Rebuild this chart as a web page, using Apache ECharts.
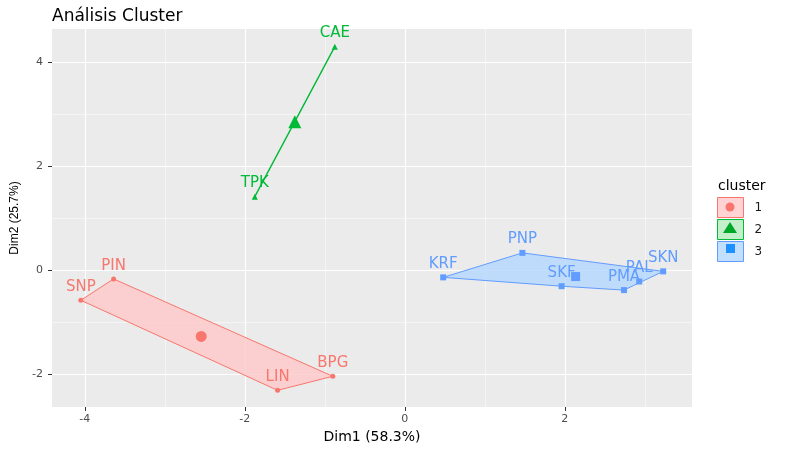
<!DOCTYPE html>
<html>
<head>
<meta charset="utf-8">
<script src="https://cdn.jsdelivr.net/npm/echarts@6/dist/echarts.min.js"></script>
<style>
  html, body { margin: 0; padding: 0; background: #fff; }
  #chart { width: 790px; height: 452px; }
</style>
</head>
<body>
<div id="chart"></div>
<script>
// cluster members (Dim1, Dim2)
const cluster1Labels = ["SNP", "PIN", "LIN", "BPG"];
const cluster1X = [-4.05, -3.64, -1.59, -0.90];
const cluster1Y = [-0.58, -0.17, -2.31, -2.04];

const cluster2Labels = ["CAE", "TPK"];
const cluster2X = [-0.875, -1.875];
const cluster2Y = [4.29, 1.41];

const cluster3Labels = ["KRF", "PNP", "SKF", "PMA", "PAL", "SKN"];
const cluster3X = [0.48, 1.47, 1.96, 2.74, 2.93, 3.23];
const cluster3Y = [-0.14, 0.33, -0.31, -0.385, -0.22, -0.025];

const clusterNames = ["1", "2", "3"];
const xMajorTicks = [-4, -2, 0, 2];
const xMinorTicks = [-3, -1, 1, 3];
const yMajorTicks = [-2, 0, 2, 4];
const yMinorTicks = [-1, 1, 3];

const colors = ["#F8766D", "#00BA38", "#619CFF"];
const fills = ["rgba(255,200,200,0.8)", "rgba(180,235,190,0.8)", "rgba(180,215,255,0.8)"];
const symbols = ["circle", "triangle", "rect"];
const font = "'DejaVu Sans', sans-serif";
const fontNarrow = "'Liberation Sans', Arial, sans-serif";

function toPoints(xs, ys) {
  return xs.map((x, i) => [x, ys[i]]);
}

// convex hull (monotone chain)
function hull(pts) {
  const p = pts.slice().sort((a, b) => a[0] - b[0] || a[1] - b[1]);
  if (p.length < 3) return p;
  const cross = (o, a, b) => (a[0] - o[0]) * (b[1] - o[1]) - (a[1] - o[1]) * (b[0] - o[0]);
  const lower = [], upper = [];
  for (const q of p) {
    while (lower.length >= 2 && cross(lower[lower.length - 2], lower[lower.length - 1], q) <= 0) lower.pop();
    lower.push(q);
  }
  for (let i = p.length - 1; i >= 0; i--) {
    const q = p[i];
    while (upper.length >= 2 && cross(upper[upper.length - 2], upper[upper.length - 1], q) <= 0) upper.pop();
    upper.push(q);
  }
  upper.pop(); lower.pop();
  return lower.concat(upper);
}

function mean(a) {
  return a.reduce((s, v) => s + v, 0) / a.length;
}

const clusters = [
  { labels: cluster1Labels, pts: toPoints(cluster1X, cluster1Y), center: [mean(cluster1X), mean(cluster1Y)] },
  { labels: cluster2Labels, pts: toPoints(cluster2X, cluster2Y), center: [mean(cluster2X), mean(cluster2Y)] },
  { labels: cluster3Labels, pts: toPoints(cluster3X, cluster3Y), center: [mean(cluster3X), mean(cluster3Y)] },
];

const series = [];
clusters.forEach((c, k) => {
  const h = hull(c.pts);
  series.push({
    name: clusterNames[k],
    type: "custom",
    data: h,
    z: 2,
    silent: true,
    renderItem(params, api) {
      if (params.dataIndex !== 0) return;
      return {
        type: "polygon",
        shape: { points: h.map((p) => api.coord(p)) },
        style: { fill: fills[k], stroke: colors[k], lineWidth: k === 1 ? 1.4 : 1 },
      };
    },
  });
  series.push({
    name: clusterNames[k],
    type: "scatter",
    data: c.pts.map((p, i) => ({ value: p, name: c.labels[i] })),
    symbol: symbols[k],
    symbolSize: k === 0 ? 5 : 6,
    itemStyle: { color: colors[k], opacity: 1 },
    z: 3,
    label: {
      show: true,
      position: "top",
      distance: 3,
      formatter: "{b}",
      color: colors[k],
      fontSize: 15,
      fontFamily: font,
    },
  });
  series.push({
    name: clusterNames[k],
    type: "scatter",
    data: [c.center],
    symbol: symbols[k],
    symbolSize: k === 0 ? 11 : k === 1 ? 13 : 9,
    itemStyle: { color: colors[k], opacity: 1 },
    z: 5,
  });
});

const tickStyle = { show: true, length: 4, lineStyle: { color: "#333" } };
const labelStyle = { color: "#4D4D4D", fontSize: 11, fontFamily: font };

const chart = echarts.init(document.getElementById("chart"));
chart.setOption({
  animation: false,
  backgroundColor: "#fff",
  title: [
    {
      text: "Análisis Cluster",
      left: 47,
      top: 3,
      textStyle: { fontSize: 17, fontWeight: "normal", color: "#000", fontFamily: font },
    },
    {
      text: "cluster",
      left: 713,
      top: 174,
      textStyle: { fontSize: 14, fontWeight: "normal", color: "#000", fontFamily: font },
    },
  ],
  grid: { left: 52, top: 29, right: 98, bottom: 45, show: true, backgroundColor: "#EBEBEB", borderWidth: 0 },
  xAxis: [
    {
      type: "value",
      position: "bottom",
      min: -4.41, max: 3.59,
      axisLine: { show: false, onZero: false },
      axisTick: { show: false, customValues: xMinorTicks },
      axisLabel: { show: false, customValues: xMinorTicks },
      splitLine: { show: true, lineStyle: { color: "#fff", width: 0.5 } },
    },
    {
      type: "value",
      position: "bottom",
      min: -4.41, max: 3.59,
      axisLine: { show: false, onZero: false },
      axisTick: Object.assign({ customValues: xMajorTicks }, tickStyle),
      axisLabel: Object.assign({ customValues: xMajorTicks, margin: 7 }, labelStyle),
      splitLine: { show: true, lineStyle: { color: "#fff", width: 1.1 } },
      name: "Dim1 (58.3%)",
      nameLocation: "middle",
      nameGap: 20,
      nameTextStyle: { fontSize: 14, color: "#000", fontFamily: font },
    },
  ],
  yAxis: [
    {
      type: "value",
      position: "left",
      min: -2.63, max: 4.63,
      axisLine: { show: false, onZero: false },
      axisTick: { show: false, customValues: yMinorTicks },
      axisLabel: { show: false, customValues: yMinorTicks },
      splitLine: { show: true, lineStyle: { color: "#fff", width: 0.5 } },
    },
    {
      type: "value",
      position: "left",
      min: -2.63, max: 4.63,
      axisLine: { show: false, onZero: false },
      axisTick: Object.assign({ customValues: yMajorTicks }, tickStyle),
      axisLabel: Object.assign({ customValues: yMajorTicks, margin: 9 }, labelStyle),
      splitLine: { show: true, lineStyle: { color: "#fff", width: 1.1 } },
      name: "Dim2 (25.7%)",
      nameLocation: "middle",
      nameGap: 26,
      nameTextStyle: { fontSize: 12, color: "#000", fontFamily: fontNarrow },
    },
  ],
  legend: {
    orient: "vertical",
    left: 717,
    top: 197,
    padding: 0,
    itemWidth: 26,
    itemHeight: 20,
    itemGap: 1,
    selectedMode: false,
    textStyle: { fontSize: 12, color: "#1a1a1a", fontFamily: font, padding: [0, 0, 0, 6] },
    data: clusterNames.map((n, k) => ({
      name: n,
      icon: "rect",
      itemStyle: { color: fills[k], borderColor: colors[k], borderWidth: 1 },
    })),
  },
  graphic: [
    { type: "circle", shape: { cx: 730, cy: 207, r: 4.5 }, style: { fill: colors[0] }, z: 100 },
    { type: "polygon", shape: { points: [[730, 222], [723, 233], [737, 233]] }, style: { fill: "#00A82A" }, z: 100 },
    { type: "rect", shape: { x: 726, y: 244, width: 9, height: 9 }, style: { fill: "#1E90FF" }, z: 100 },
  ],
  series: series.map((s) => Object.assign({}, s, { xAxisIndex: 1, yAxisIndex: 1 })),
});
</script>
</body>
</html>
